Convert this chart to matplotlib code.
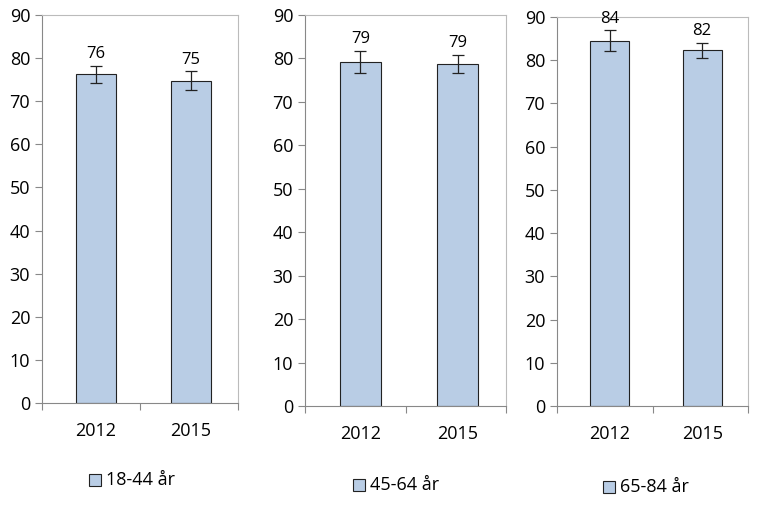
import matplotlib.pyplot as plt
from matplotlib.patches import Rectangle

years = ["2012", "2015"]
groups = ["18-44 år", "45-64 år", "65-84 år"]
values = [[76.2, 74.8], [79.2, 78.7], [84.5, 82.3]]
errors = [[2.0, 2.2], [2.6, 2.1], [2.4, 1.7]]
labels = [["76", "75"], ["79", "79"], ["84", "82"]]

W, H = 758, 507
# panel boxes in pixels: left, top, right, bottom
boxes = [(42, 15, 238, 403), (305, 15, 506, 406), (557, 17, 748, 406)]
legend_y = [480, 485, 487]

plt.rcParams["font.family"] = "Open Sans"
fig = plt.figure(figsize=(W / 100, H / 100), dpi=100)

for i, (l, t, r, b) in enumerate(boxes):
    ax = fig.add_axes([l / W, (H - b) / H, (r - l) / W, (b - t) / H])
    x = [0.55, 1.52]
    ax.bar(x, values[i], width=0.41, color="#B9CDE5", edgecolor="#222222",
           linewidth=0.8, yerr=errors[i], capsize=4,
           error_kw=dict(elinewidth=0.9, capthick=0.9, ecolor="#222222"))
    for xi, v, e, s in zip(x, values[i], errors[i], labels[i]):
        ax.text(xi, v + e + 0.8, s, ha="center", va="bottom", fontsize=12)
    ax.set_xlim(0, 2)
    ax.set_ylim(0, 90)
    ax.set_yticks(range(0, 91, 10))
    ax.set_xticks([0, 1, 2])
    ax.set_xticklabels([])
    ax.set_xticks(x, minor=True)
    ax.set_xticklabels(years, minor=True, fontsize=13)
    ax.tick_params(axis="x", which="minor", length=0, pad=14)
    ax.tick_params(axis="x", which="major", length=5, color="#888888")
    ax.tick_params(axis="y", labelsize=13, length=5, color="#888888")
    for side in ["top", "right"]:
        ax.spines[side].set_color("#BBBBBB")
    for side in ["left", "bottom"]:
        ax.spines[side].set_color("#888888")
    # legend: square marker + text
    ly = legend_y[i]
    sx = l + (r - l) * 0.27
    fig.patches.append(Rectangle(((sx - 6) / W, (H - ly - 6) / H), 12 / W, 12 / H,
                                 transform=fig.transFigure, facecolor="#B9CDE5",
                                 edgecolor="#222222", linewidth=0.8))
    fig.text((sx + 11) / W, (H - ly) / H, groups[i], ha="left",
             va="center", fontsize=13)

fig.savefig("out.png", dpi=100)
